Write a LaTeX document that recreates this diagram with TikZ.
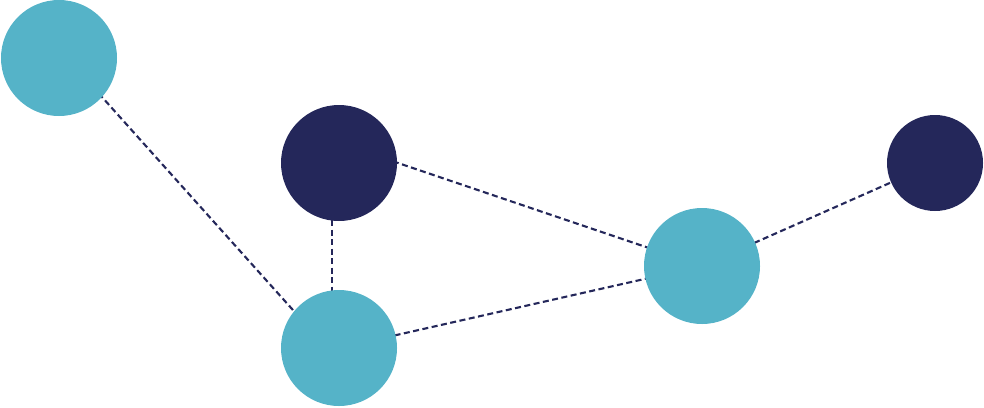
\documentclass[tikz,border=0pt]{standalone}
\usetikzlibrary{calc, backgrounds}
\definecolor{ndTeal}{HTML}{55B3C8}
\definecolor{ndNavy}{HTML}{24275A}
\tikzset{
  ndTealDot/.style={circle, fill=ndTeal, draw=none, minimum size=116pt, inner sep=0pt},
  ndNavyDot/.style={circle, fill=ndNavy, draw=none, minimum size=116pt, inner sep=0pt},
  ndlink/.style={ndNavy, line width=2.1pt, dash pattern=on 6pt off 3.5pt}
}

\begin{document}
\begin{tikzpicture}[x=1pt, y=-1pt]
        \useasboundingbox (0,0) rectangle (984,407);
        \node[ndTealDot] (a) at (59,58) {};
        \node[ndNavyDot] (b) at (339,163) {};
        \node[ndTealDot] (c) at (339,348) {};
        \node[ndTealDot] (d) at (702,266) {};
        \node[ndNavyDot, minimum size=96pt] (e) at (935,163) {};
        \begin{scope}[on background layer]
          \draw[ndlink] ($(a.center)+(8,0)$) -- ($(c.center)+(-12,0)$);
          \draw[ndlink] ($(b.center)+(-7,0)$) -- ($(c.center)+(-7,0)$);
          \draw[ndlink] ($(b.center)+(0,-20)$) -- (d.center);
          \draw[ndlink] (c.center) -- (d.center);
          \draw[ndlink] (d.center) -- (e.center);
        \end{scope}
      \end{tikzpicture}
\end{document}
